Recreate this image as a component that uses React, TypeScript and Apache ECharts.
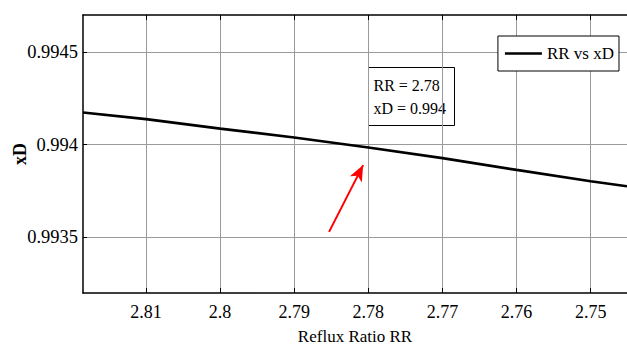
import React, { useEffect, useRef } from "react";
import * as echarts from "echarts";

const rrValues = [2.8185, 2.81, 2.8, 2.79, 2.78, 2.77, 2.76, 2.75, 2.7451];
const xdValues = [0.994174, 0.994138, 0.994087, 0.994039, 0.993985, 0.993928, 0.993864, 0.993803, 0.993776];
const xTicks = [2.81, 2.8, 2.79, 2.78, 2.77, 2.76, 2.75];
const yTicks = [0.9935, 0.994, 0.9945];
const arrowFrom = [2.7853, 0.99353];
const arrowTo = [2.7807, 0.99389];
const tipLines = ["RR = 2.78", "xD = 0.994"];
const seriesName = "RR vs xD";

const FONT = "Liberation Serif";

export default function App() {
  const ref = useRef<HTMLDivElement>(null);
  useEffect(() => {
    const chart = echarts.init(ref.current!, null, { renderer: "svg" });
    const data = rrValues.map((x, i) => [x, xdValues[i]]);
    chart.setOption({
      animation: false,
      backgroundColor: "#fff",
      textStyle: { fontFamily: FONT },
      grid: { left: 83, top: 15, right: 0, bottom: 54, containLabel: false, outerBoundsMode: "none" },
      xAxis: [
        {
          type: "value",
          inverse: true,
          min: 2.7451,
          max: 2.8185,
          name: "Reflux Ratio RR",
          nameLocation: "middle",
          nameGap: 35,
          nameMoveOverlap: false,
          nameTextStyle: { fontFamily: FONT, fontSize: 17, color: "#000" },
          axisLine: { show: true, onZero: false, lineStyle: { color: "#000", width: 1.5 } },
          axisTick: { show: true, inside: true, length: 5, customValues: xTicks, lineStyle: { color: "#000" } },
          axisLabel: {
            customValues: xTicks,
            fontFamily: FONT,
            fontSize: 18,
            color: "#000",
            margin: 10,
            formatter: (v: number) => String(Number(v.toFixed(4))),
          },
          splitLine: { show: true, lineStyle: { color: "#9a9a9a", width: 1 } },
        },
        {
          type: "value",
          position: "top",
          inverse: true,
          min: 2.7451,
          max: 2.8185,
          axisLine: { show: true, onZero: false, lineStyle: { color: "#000", width: 1.5 } },
          axisTick: { show: true, inside: true, length: 5, customValues: xTicks, lineStyle: { color: "#000" } },
          axisLabel: { show: false, customValues: xTicks },
          splitLine: { show: false },
        },
      ],
      yAxis: {
        type: "value",
        min: 0.9932,
        max: 0.9947,
        name: "xD",
        nameLocation: "middle",
        nameGap: 54,
        nameMoveOverlap: false,
        nameTextStyle: { fontFamily: FONT, fontSize: 18, fontWeight: "bold", color: "#000" },
        axisLine: { show: true, onZero: false, lineStyle: { color: "#000", width: 1.5 } },
        axisTick: { show: true, inside: true, length: 4, customValues: yTicks, lineStyle: { color: "#000" } },
        axisLabel: {
          customValues: yTicks,
          fontFamily: FONT,
          fontSize: 18.5,
          color: "#000",
          margin: 5,
          formatter: (v: number) => String(Number(v.toFixed(5))),
        },
        splitLine: { show: true, lineStyle: { color: "#9a9a9a", width: 1 } },
      },
      legend: {
        show: true,
        right: 8,
        top: 36,
        orient: "horizontal",
        padding: [9, 5, 9, 7],
        itemGap: 3,
        itemWidth: 37,
        itemHeight: 14,
        borderColor: "#000",
        borderWidth: 1,
        backgroundColor: "#fff",
        textStyle: { fontFamily: FONT, fontSize: 17, color: "#000" },
        data: [{ name: seriesName, icon: "path://M0,6L37,6L37,8.5L0,8.5Z", itemStyle: { color: "#000" } }],
      },
      series: [
        {
          name: seriesName,
          type: "line",
          data,
          symbol: "none",
          smooth: false,
          clip: true,
          lineStyle: { color: "#000", width: 2.7 },
          itemStyle: { color: "#000" },
          markLine: {
            silent: true,
            symbol: ["none", "arrow"],
            symbolSize: [10, 16],
            label: { show: false },
            lineStyle: { color: "#ff0000", width: 2, type: "solid" },
            data: [[{ coord: arrowFrom }, { coord: arrowTo }]],
          },
        },
      ],
      graphic: [
        {
          type: "group",
          left: 368,
          top: 67,
          children: [
            {
              type: "rect",
              shape: { x: 0, y: 0, width: 86, height: 58 },
              style: { fill: "#fff", stroke: "#000", lineWidth: 1 },
            },
            {
              type: "text",
              x: 5,
              y: 10,
              style: { text: tipLines[0], fontFamily: FONT, fontSize: 16, fill: "#000" },
            },
            {
              type: "text",
              x: 5,
              y: 33,
              style: { text: tipLines[1], fontFamily: FONT, fontSize: 16, fill: "#000" },
            },
          ],
        },
      ],
    });
    return () => chart.dispose();
  }, []);
  return (
    <div
      ref={ref}
      style={{ position: "absolute", left: 0, top: 0, width: 627, height: 347 }}
    />
  );
}
